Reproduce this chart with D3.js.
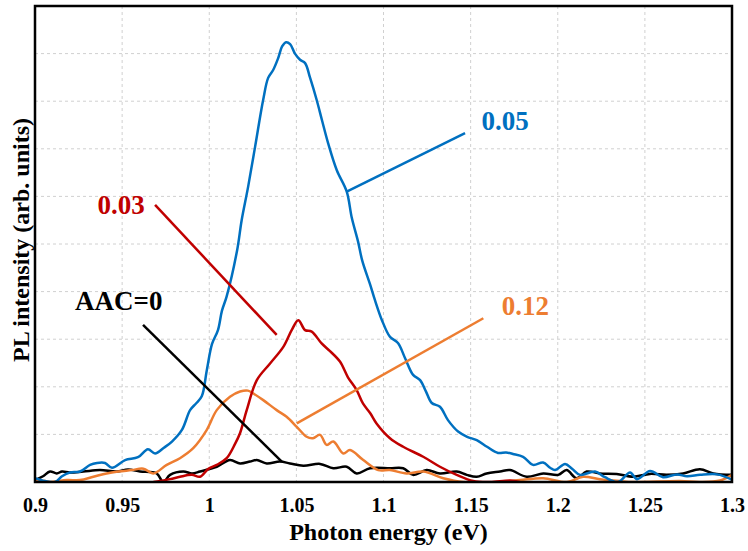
<!DOCTYPE html>
<meta charset="utf-8">
<style>
    body { margin: 0; background: #fff; }
    text { font-family: "Liberation Serif", "Times New Roman", serif; font-weight: bold; }
    .grid line { stroke: #d0d0d0; stroke-dasharray: 3,3; stroke-width: 1; }
    .xaxis text { font-size: 20px; fill: #000; }
    .series { fill: none; stroke-width: 2.5; stroke-linejoin: round; }
</style>
<body>
<script src="https://d3js.org/d3.v7.min.js"></script>
<script>

// Photon energy (eV) / PL intensity (arb. units)
var blueE = [0.9, 0.9057, 0.9115, 0.9155, 0.92, 0.9258, 0.9316, 0.9356, 0.9402, 0.9442, 0.9517, 0.9591, 0.9648, 0.9689, 0.974, 0.9786, 0.9844, 0.989, 0.9924, 0.9957, 0.9986, 1.0016, 1.005, 1.0073, 1.01, 1.016, 1.0186, 1.0223, 1.0263, 1.0309, 1.0338, 1.0366, 1.0395, 1.0418, 1.0441, 1.0464, 1.0492, 1.0521, 1.055, 1.0578, 1.0617, 1.0647, 1.0682, 1.0732, 1.0789, 1.0818, 1.0854, 1.0878, 1.0923, 1.0951, 1.0991, 1.1037, 1.1083, 1.1124, 1.117, 1.121, 1.1244, 1.1277, 1.1324, 1.137, 1.1428, 1.148, 1.1535, 1.1594, 1.1657, 1.1703, 1.1743, 1.1801, 1.1858, 1.1916, 1.1956, 1.1984, 1.2042, 1.2082, 1.2128, 1.2214, 1.2271, 1.2346, 1.2415, 1.2455, 1.253, 1.2604, 1.2685, 1.2742, 1.2817, 1.2914, 1.3];
var blueI = [0.08, 0.02, 0.0, 0.12, 0.2, 0.22, 0.36, 0.4, 0.4, 0.3, 0.46, 0.52, 0.69, 0.6, 0.72, 0.85, 1.1, 1.51, 1.65, 1.8, 2.35, 2.9, 3.19, 3.6, 3.9, 4.87, 5.5, 6.2, 7.04, 8.02, 8.49, 8.65, 8.9, 9.15, 9.24, 9.2, 9.0, 8.87, 8.8, 8.5, 8.02, 7.6, 7.12, 6.55, 6.1, 5.55, 5.05, 4.65, 4.15, 3.82, 3.4, 3.05, 2.92, 2.6, 2.25, 2.14, 1.9, 1.66, 1.58, 1.3, 1.06, 0.95, 0.88, 0.74, 0.61, 0.62, 0.59, 0.53, 0.36, 0.41, 0.3, 0.25, 0.38, 0.28, 0.15, 0.22, 0.1, 0.0, 0.2, 0.06, 0.23, 0.1, 0.16, 0.12, 0.15, 0.16, 0.05];

var redE = [0.968, 0.9775, 0.9832, 0.99, 0.9947, 0.9993, 1.0043, 1.01, 1.0148, 1.0177, 1.0215, 1.0273, 1.0349, 1.0425, 1.0473, 1.0511, 1.055, 1.0588, 1.0645, 1.0693, 1.075, 1.0796, 1.0846, 1.0882, 1.0923, 1.096, 1.1037, 1.1113, 1.1228, 1.1324, 1.142, 1.1515, 1.1612, 1.1726, 1.1784];
var redI = [0.0, 0.06, 0.11, 0.15, 0.11, 0.27, 0.36, 0.5, 0.8, 1.03, 1.51, 2.14, 2.49, 2.84, 3.19, 3.4, 3.19, 3.16, 2.91, 2.75, 2.53, 2.2, 1.93, 1.65, 1.45, 1.23, 0.92, 0.74, 0.53, 0.32, 0.15, 0.02, 0.0, 0.03, 0.0];

var orangeE = [0.9, 0.9057, 0.9086, 0.9182, 0.9258, 0.9335, 0.9411, 0.9478, 0.9555, 0.9622, 0.9679, 0.9756, 0.9832, 0.9908, 0.9985, 1.0043, 1.0119, 1.0177, 1.0222, 1.0253, 1.031, 1.0387, 1.0444, 1.0502, 1.0559, 1.0595, 1.0636, 1.0674, 1.0712, 1.0769, 1.0808, 1.0884, 1.097, 1.1037, 1.1133, 1.1228, 1.1343, 1.1458, 1.1669, 1.1784, 1.1916, 1.2053, 1.2145, 1.2242, 1.2357, 1.2432, 1.2702, 1.2816, 1.2931, 1.3];
var orangeI = [0.05, 0.02, 0.0, 0.04, 0.04, 0.11, 0.18, 0.22, 0.25, 0.28, 0.18, 0.36, 0.5, 0.71, 1.09, 1.51, 1.79, 1.9, 1.92, 1.86, 1.72, 1.51, 1.37, 1.16, 0.95, 0.92, 0.99, 0.78, 0.85, 0.6, 0.67, 0.46, 0.25, 0.25, 0.18, 0.22, 0.08, 0.0, 0.0, 0.04, 0.08, 0.0, 0.11, 0.06, 0.02, 0.0, 0.02, 0.0, 0.03, 0.15];

var blackE = [0.9, 0.9046, 0.9086, 0.9125, 0.9155, 0.92, 0.9277, 0.9373, 0.9469, 0.9534, 0.9603, 0.9698, 0.9736, 0.9775, 0.9851, 0.9901, 0.9947, 1.0043, 1.0119, 1.0177, 1.0234, 1.0273, 1.033, 1.0406, 1.0463, 1.054, 1.0636, 1.0712, 1.0789, 1.0846, 1.0923, 1.1037, 1.1113, 1.117, 1.1248, 1.1324, 1.142, 1.1478, 1.1535, 1.1592, 1.1669, 1.1726, 1.1822, 1.1917, 1.2003, 1.2051, 1.2108, 1.2166, 1.2242, 1.2338, 1.2433, 1.2529, 1.2625, 1.272, 1.2816, 1.2893, 1.3];
var blackI = [0.04, 0.12, 0.22, 0.18, 0.22, 0.2, 0.22, 0.25, 0.22, 0.26, 0.22, 0.18, 0.0, 0.15, 0.22, 0.18, 0.22, 0.32, 0.46, 0.39, 0.43, 0.46, 0.39, 0.43, 0.39, 0.34, 0.38, 0.29, 0.32, 0.18, 0.29, 0.29, 0.29, 0.15, 0.25, 0.18, 0.22, 0.15, 0.11, 0.18, 0.22, 0.25, 0.11, 0.18, 0.15, 0.25, 0.08, 0.22, 0.18, 0.17, 0.11, 0.17, 0.15, 0.18, 0.27, 0.18, 0.15];

var xTicks = [0.9, 0.95, 1, 1.05, 1.1, 1.15, 1.2, 1.25, 1.3];
var xTickLabels = ["0.9", "0.95", "1", "1.05", "1.1", "1.15", "1.2", "1.25", "1.3"];
var yGrid = [1, 2, 3, 4, 5, 6, 7, 8, 9];

// labels and their leader lines, in data units
var labelNames = ["0.05", "0.03", "AAC=0", "0.12"];
var labelColors = ["#0070C0", "#C00000", "#000000", "#ED7D31"];
var labelAt = [[1.1563, 7.39], [0.9358, 5.64], [0.923, 3.61], [1.1678, 3.51]];
var leaderFrom = [[1.0789, 6.1], [0.9689, 5.82], [0.962, 3.30], [1.0502, 1.23]];
var leaderTo = [[1.1468, 7.33], [1.0387, 3.09], [1.0416, 0.43], [1.1573, 3.44]];

var margin = {top: 6, right: 16, bottom: 69, left: 35},
    width = 748 - margin.left - margin.right,
    height = 551 - margin.top - margin.bottom;

var svg = d3.select("body").append("svg")
    .attr("width", 748)
    .attr("height", 551)
    .append("g")
    .attr("transform", "translate(" + margin.left + "," + margin.top + ")");

var x = d3.scaleLinear().domain([0.9, 1.3]).range([0, width]);
var y = d3.scaleLinear().domain([0, 10]).range([height, 0]);

svg.append("clipPath").attr("id", "clip")
    .append("rect").attr("width", width).attr("height", height);

// dashed grid
var grid = svg.append("g").attr("class", "grid");
grid.selectAll(".vg")
    .data(xTicks.slice(1, -1))
    .enter().append("line")
    .attr("x1", function(d) { return x(d); })
    .attr("x2", function(d) { return x(d); })
    .attr("y1", 0)
    .attr("y2", height);
grid.selectAll(".hg")
    .data(yGrid)
    .enter().append("line")
    .attr("x1", 0)
    .attr("x2", width)
    .attr("y1", function(d) { return y(d); })
    .attr("y2", function(d) { return y(d); });

// series
var series = [
    {e: blackE, v: blackI, color: "#000000"},
    {e: orangeE, v: orangeI, color: "#ED7D31"},
    {e: redE, v: redI, color: "#C00000"},
    {e: blueE, v: blueI, color: "#0070C0"}
];

var line = d3.line()
    .x(function(d) { return x(d[0]); })
    .y(function(d) { return y(d[1]); })
    .curve(d3.curveCatmullRom.alpha(0.5));

svg.append("g").attr("clip-path", "url(#clip)")
    .selectAll("path")
    .data(series)
    .enter().append("path")
    .attr("class", "series")
    .attr("stroke", function(d) { return d.color; })
    .attr("d", function(d) { return line(d.e.map(function(e, i) { return [e, d.v[i]]; })); });

// frame
svg.append("rect")
    .attr("width", width)
    .attr("height", height)
    .attr("fill", "none")
    .attr("stroke", "#000")
    .attr("stroke-width", 2.5);

// x axis
var xAxis = d3.axisBottom(x)
    .tickValues(xTicks)
    .tickSize(0)
    .tickPadding(16)
    .tickFormat(function(d, i) { return xTickLabels[i]; });

svg.append("g")
    .attr("class", "xaxis")
    .attr("transform", "translate(0," + height + ")")
    .call(xAxis)
    .call(function(g) { g.select(".domain").remove(); })
    .selectAll("text")
    .attr("font-family", null);

svg.append("text")
    .attr("x", width / 2 + 5)
    .attr("y", height + 58)
    .attr("text-anchor", "middle")
    .style("font-size", "24px")
    .text("Photon energy (eV)");

svg.append("text")
    .attr("transform", "translate(-6," + (height / 2 - 4) + ")rotate(-90)")
    .attr("text-anchor", "middle")
    .style("font-size", "24px")
    .text("PL intensity (arb. units)");

// leader lines and labels
svg.selectAll(".leader")
    .data(labelNames)
    .enter().append("line")
    .attr("class", "leader")
    .attr("x1", function(d, i) { return x(leaderFrom[i][0]); })
    .attr("y1", function(d, i) { return y(leaderFrom[i][1]); })
    .attr("x2", function(d, i) { return x(leaderTo[i][0]); })
    .attr("y2", function(d, i) { return y(leaderTo[i][1]); })
    .attr("stroke", function(d, i) { return labelColors[i]; })
    .attr("stroke-width", 2.5);

svg.selectAll(".lbl")
    .data(labelNames)
    .enter().append("text")
    .attr("class", "lbl")
    .attr("x", function(d, i) { return x(labelAt[i][0]); })
    .attr("y", function(d, i) { return y(labelAt[i][1]); })
    .attr("fill", function(d, i) { return labelColors[i]; })
    .style("font-size", "27px")
    .text(function(d) { return d; });

</script>
</body>
